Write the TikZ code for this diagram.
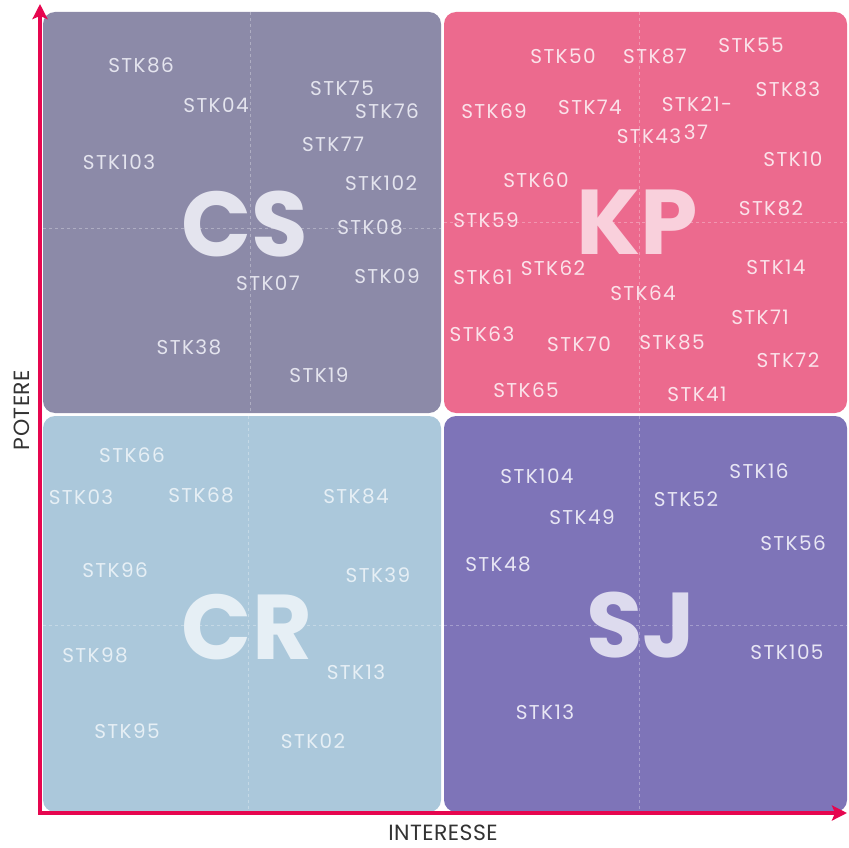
\documentclass[tikz,border=0pt]{standalone}
\usepackage{fontspec}
\setmainfont{Poppins}
\usepackage{tikz}
\usetikzlibrary{arrows.meta, positioning}
\definecolor{axisred}{HTML}{E6064F}
\definecolor{csbg}{HTML}{8C8AA8}
\definecolor{kpbg}{HTML}{EC6A8E}
\definecolor{crbg}{HTML}{ABC8DB}
\definecolor{sjbg}{HTML}{7E74B8}
\definecolor{cstext}{HTML}{E4E4EE}
\definecolor{kptext}{HTML}{FBE2EA}
\definecolor{crtext}{HTML}{E6EFF5}
\definecolor{sjtext}{HTML}{E8E6F4}
\definecolor{axistext}{HTML}{333333}

\begin{document}
\begin{tikzpicture}[
      x=1pt, y=-1pt,
      quad/.style={rectangle, rounded corners=12pt, inner sep=0pt, draw=none},
      stk/.style={inner sep=0pt, font=\fontsize{20}{20}\selectfont\addfontfeature{LetterSpace=7}},
      big/.style={inner sep=0pt, text height=64pt, text depth=0pt, font=\fontsize{92}{92}\selectfont\bfseries},
      grid/.style={white, opacity=0.3, line width=0.8pt, dash pattern=on 3pt off 3pt},
      axis/.style={line width=3.2pt, axisred, -{Stealth[length=15pt, width=15pt, inset=3pt]}},
      axislabel/.style={inner sep=0pt, text=axistext, font=\fontsize{22}{22}\selectfont\addfontfeature{LetterSpace=2}}
    ]
      \useasboundingbox (0,0) rectangle (849,848);
      % quadrants
      \node[quad, fill=csbg, minimum width=398pt, minimum height=401pt] (cs) at (242,212.5) {};
      \node[quad, fill=kpbg, minimum width=403pt, minimum height=401pt] (kp) at (645.5,212.5) {};
      \node[quad, fill=crbg, minimum width=398pt, minimum height=396pt] (cr) at (242,614) {};
      \node[quad, fill=sjbg, minimum width=403pt, minimum height=396pt] (sj) at (645.5,614) {};
      \foreach \q/\dx/\dy in {cs/8/-15.5, kp/-6/-10, cr/6/-11, sj/-6/-11} {
        \draw[grid] ([xshift=\dx pt]\q.north) -- ([xshift=\dx pt]\q.south);
        \draw[grid] ([yshift=\dy pt]\q.west) -- ([yshift=\dy pt]\q.east);
      }
      % big letters
      \node[big, text=cstext] (cslabel) at (245,224) {CS};
      \node[big, text=kptext!85!kpbg] (kplabel) at (637,222) {KP};
      \node[big, text=crtext] (crlabel) at (247,627) {CR};
      \node[big, text=sjtext!90!sjbg] (sjlabel) at (641,625) {SJ};
      % CS
      \begin{scope}[every node/.style={stk, text=cstext}]
        \node (stk86) at (141,65) {STK86};
        \node (stk04) at (216,105) {STK04};
        \node (stk75) at (342,88) {STK75};
        \node (stk76) at (387,111) {STK76};
        \node (stk103) at (119,162) {STK103};
        \node (stk77) at (333,144) {STK77};
        \node (stk102) at (381,183) {STK102};
        \node (stk08) at (370,227) {STK08};
        \node (stk07) at (268,283) {STK07};
        \node (stk09) at (387,276) {STK09};
        \node (stk38) at (189,347) {STK38};
        \node (stk19) at (319,375) {STK19};
      \end{scope}
      % KP
      \begin{scope}[every node/.style={stk, text=kptext}]
        \node (stk50) at (563,56) {STK50};
        \node (stk87) at (655,56) {STK87};
        \node (stk55) at (751,45) {STK55};
        \node (stk83) at (788,89) {STK83};
        \node (stk69) at (494,111) {STK69};
        \node (stk74) at (590,107) {STK74};
        \node (stk21) at (697,104) {STK21-};
        \node (stk43) at (649,136) {STK43};
        \node (stk37) at (696,132) {37};
        \node (stk10) at (793,159) {STK10};
        \node (stk60) at (536,180) {STK60};
        \node (stk82) at (771,208) {STK82};
        \node (stk59) at (486,220) {STK59};
        \node (stk61) at (483,277) {STK61};
        \node (stk62) at (553,268) {STK62};
        \node (stk14) at (776,267) {STK14};
        \node (stk64) at (643,293) {STK64};
        \node (stk71) at (760,317) {STK71};
        \node (stk63) at (482,334) {STK63};
        \node (stk70) at (579,344) {STK70};
        \node (stk85) at (672,342) {STK85};
        \node (stk72) at (788,360) {STK72};
        \node (stk65) at (526,390) {STK65};
        \node (stk41) at (697,394) {STK41};
      \end{scope}
      % CR
      \begin{scope}[every node/.style={stk, text=crtext}]
        \node (stk66) at (132,455) {STK66};
        \node (stk03) at (81,497) {STK03};
        \node (stk68) at (201,495) {STK68};
        \node (stk84) at (356,496) {STK84};
        \node (stk96) at (115,570) {STK96};
        \node (stk39) at (378,575) {STK39};
        \node (stk98) at (95,655) {STK98};
        \node (stk13cr) at (356,672) {STK13};
        \node (stk95) at (127,731) {STK95};
        \node (stk02) at (313,741) {STK02};
      \end{scope}
      % SJ
      \begin{scope}[every node/.style={stk, text=sjtext}]
        \node (stk104) at (537,476) {STK104};
        \node (stk16) at (759,471) {STK16};
        \node (stk52) at (686,499) {STK52};
        \node (stk49) at (582,517) {STK49};
        \node (stk56) at (793,543) {STK56};
        \node (stk48) at (498,564) {STK48};
        \node (stk105) at (787,652) {STK105};
        \node (stk13sj) at (545,712) {STK13};
      \end{scope}
      % axes
      \coordinate (origin) at (40,813);
      \coordinate (ytip) at (40,4);
      \coordinate (xtip) at (847,813);
      \draw[axis] ([yshift=-1.6pt]origin) -- (ytip);
      \draw[axis] ([xshift=-1.6pt]origin) -- (xtip);
      \node[axislabel, rotate=90] (potere) at (22,410) {POTERE};
      \node[axislabel] (interesse) at (443,833) {INTERESSE};
    \end{tikzpicture}
\end{document}
